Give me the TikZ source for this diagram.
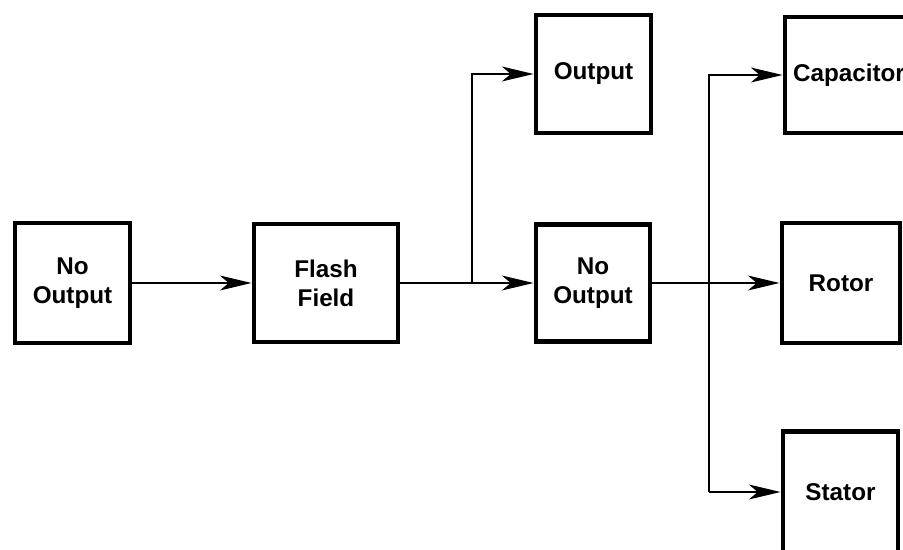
\documentclass[tikz,border=0pt]{standalone}
\usepackage{fontspec}
\setmainfont{Liberation Sans}
\usetikzlibrary{arrows.meta, positioning}

\begin{document}
\begin{tikzpicture}[
    x=0.02cm, y=-0.02cm,
    block/.style={rectangle, draw=black, line width=2.8pt, align=center, font=\fontsize{13.8}{16.5}\selectfont\bfseries},
    arrow/.style={-{Stealth[length=18pt, width=8.5pt, inset=5pt]}, line width=1.1pt}
]
    \clip (0,0) rectangle (903,550);
    \fill[white] (0,0) rectangle (903,550);

    \node[block, minimum width=2.30cm, minimum height=2.40cm] (noout) at (72.5,283) {No\\Output};
    \node[block, minimum width=2.88cm, minimum height=2.36cm] (flash) at (326,283) {Flash\\Field};
    \node[block, minimum width=2.30cm, minimum height=2.36cm] (output) at (593.5,74) {Output};
    \node[block, minimum width=2.28cm, minimum height=2.34cm] (noout2) at (593,283) {No\\Output};
    \node[block, minimum width=2.56cm, minimum height=2.32cm] (cap) at (849,75) {Capacitor};
    \node[block, minimum width=2.36cm, minimum height=2.40cm] (rotor) at (841,283) {Rotor};
    \node[block, minimum width=2.30cm, minimum height=2.42cm] (stator) at (840.5,492) {Stator};

    \coordinate (split) at (472,283);
    \coordinate (bus) at (709,492);

    \draw[arrow] (noout) -- (flash);
    \draw[arrow] (flash) -- (noout2);
    \draw[arrow] (split) |- (output.west);
    \draw[arrow] (noout2) -- (rotor);
    \draw[arrow] (bus) |- (cap.west);
    \draw[arrow] (bus) -- (stator.west);
\end{tikzpicture}
\end{document}
